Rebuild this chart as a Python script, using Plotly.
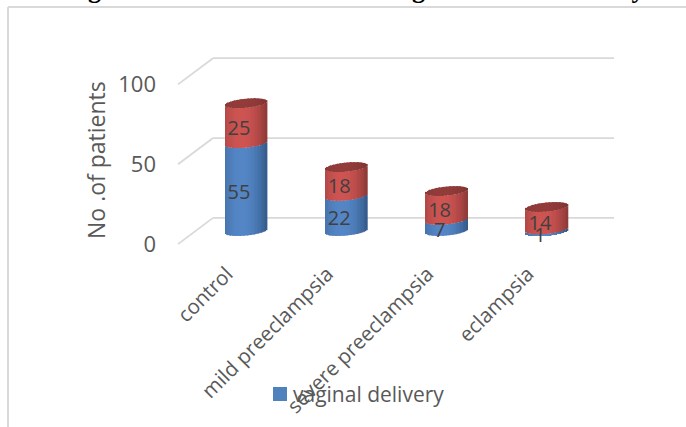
import numpy as np
import plotly.graph_objects as go

# Chart data
categories = ["control", "mild preeclampsia", "severe preeclampsia", "eclampsia"]
vaginal = [55, 22, 7, 1]
other_mode = [25, 18, 18, 14]
y_ticks = [0, 50, 100]
title_text = "Figure 4: Distribution according to mode of delivery"
legend_label = "vaginal delivery"

# Canvas and scale of the pseudo-3D plot
W, H = 686, 427
PX_PER_UNIT = 1.597
PX_PER_CAT = 100.3
BAR_CENTER_PX = 246
BASE_PX = 231
DEPTH = 8.2            # half the floor depth, in value units
HALF_W = 21            # cylinder radius, px
ARC_H = 4.5            # ellipse half height, px
ARC_TILT = 2.0         # ellipse shear, px
N_STRIPS = 30

x_range = [(0 - BAR_CENTER_PX) / PX_PER_CAT, (W - BAR_CENTER_PX) / PX_PER_CAT]
y_range = [-(H - BASE_PX) / PX_PER_UNIT, BASE_PX / PX_PER_UNIT]


def shade(c_mid, c_edge, t):
    k = np.clip(abs(t + 0.2) / 1.2, 0, 1) ** 2
    rgb = [round(a + (b - a) * k) for a, b in zip(c_mid, c_edge)]
    return f"rgb({rgb[0]},{rgb[1]},{rgb[2]})"


def lower_arc(t):
    return (ARC_TILT * t - ARC_H * np.sqrt(max(0.0, 1 - t * t))) / PX_PER_UNIT


def upper_arc(t):
    return (ARC_TILT * t + ARC_H * np.sqrt(max(0.0, 1 - t * t))) / PX_PER_UNIT


fig = go.Figure()

# Back wall grid with the diagonal floor/side returns, kept under the cylinders
grid_left_front = (178 - BAR_CENTER_PX) / PX_PER_CAT
grid_left_back = (213 - BAR_CENTER_PX) / PX_PER_CAT
grid_right = (614 - BAR_CENTER_PX) / PX_PER_CAT
GRID_LINE = dict(color="#D9D9D9", width=1.8)
shapes = []
for v in y_ticks:
    shapes.append(dict(type="line", xref="x", yref="y", layer="below",
                       x0=grid_left_front, x1=grid_left_back,
                       y0=v - DEPTH, y1=v + DEPTH, line=GRID_LINE))
    shapes.append(dict(type="line", xref="x", yref="y", layer="below",
                       x0=grid_left_back, x1=grid_right,
                       y0=v + DEPTH, y1=v + DEPTH, line=GRID_LINE))

# Chart frame along the top and the left
FRAME_LINE = dict(color="#D9D9D9", width=2)
shapes.append(dict(type="line", xref="paper", yref="paper", x0=8 / W, x1=1,
                   y0=1 - 7 / H, y1=1 - 7 / H, line=FRAME_LINE))
shapes.append(dict(type="line", xref="paper", yref="paper", x0=8 / W, x1=8 / W,
                   y0=0, y1=1 - 7 / H, line=FRAME_LINE))

# Legend swatch
shapes.append(dict(type="rect", xref="paper", yref="paper",
                   x0=273 / W, x1=287 / W, y0=1 - 401 / H, y1=1 - 387 / H,
                   fillcolor="#4F81BD", line=dict(width=0)))

idx = list(range(len(categories)))
vag = np.array(vaginal, float)
oth = np.array(other_mode, float)

# Each cylinder is a stack of narrow vertical strips shaded across its width
strip_w = 2 * HALF_W / N_STRIPS
for j in range(N_STRIPS):
    t = -1 + (j + 0.5) * 2 / N_STRIPS
    off = (t * HALF_W - strip_w / 2) / PX_PER_CAT
    wid = (strip_w + 0.4) / PX_PER_CAT
    low = lower_arc(t)
    up = upper_arc(t)
    common = dict(x=idx, offset=off, width=wid, showlegend=False, hoverinfo="skip")
    fig.add_trace(go.Bar(
        y=vag, base=[low] * 4,
        marker=dict(color=shade((84, 134, 198), (52, 90, 138), t), line=dict(width=0)),
        **common))
    fig.add_trace(go.Bar(
        y=oth, base=list(vag + low),
        marker=dict(color=shade((206, 84, 82), (140, 58, 56), t), line=dict(width=0)),
        **common))
    fig.add_trace(go.Bar(
        y=[up - low] * 4, base=list(vag + oth + low),
        marker=dict(color=shade((146, 60, 58), (128, 52, 50), t), line=dict(width=0)),
        **common))

# Value labels, nudged left and down from each segment's middle
lab_x = [i - 7 / PX_PER_CAT for i in idx]
drop = 6.5 / PX_PER_UNIT
LABEL_FONT = dict(family="Open Sans", size=20, color="#404040")
fig.add_trace(go.Scatter(
    x=lab_x, y=list(vag / 2 - drop), text=[str(v) for v in vaginal], mode="text",
    textposition="middle center", textfont=LABEL_FONT,
    showlegend=False, hoverinfo="skip",
))
fig.add_trace(go.Scatter(
    x=lab_x, y=list(vag + oth / 2 - drop), text=[str(v) for v in other_mode], mode="text",
    textposition="middle center", textfont=LABEL_FONT,
    showlegend=False, hoverinfo="skip",
))

fig.update_layout(
    width=W, height=H,
    margin=dict(l=0, r=0, t=0, b=0),
    paper_bgcolor="white", plot_bgcolor="white",
    barmode="overlay",
    font=dict(family="Open Sans", color="#595959"),
    showlegend=False,
    xaxis=dict(range=x_range, domain=[0, 1], visible=False),
    yaxis=dict(range=y_range, domain=[0, 1], visible=False),
    # Category labels hang from the front edge of the floor
    xaxis2=dict(
        overlaying="x", anchor="free", position=1 - 257 / H,
        range=[x_range[0] + 19 / PX_PER_CAT, x_range[1] + 19 / PX_PER_CAT],
        tickmode="array", tickvals=idx, ticktext=categories, tickangle=-45,
        tickfont=dict(family="Open Sans", size=20.5, color="#595959"),
        showgrid=False, showline=False, zeroline=False, ticks="",
    ),
    # Value ticks belong to the front plane, below the cylinders' plane
    yaxis2=dict(
        overlaying="y", anchor="free", position=156 / W, side="left",
        range=[y_range[0] + DEPTH, y_range[1] + DEPTH],
        tickmode="array", tickvals=y_ticks,
        tickfont=dict(family="Open Sans", size=22, color="#595959"),
        showgrid=False, showline=False, zeroline=False, ticks="",
    ),
    annotations=[
        dict(text="No .of patients", x=96 / W, y=1 - 160 / H, xref="paper", yref="paper",
             textangle=-90, showarrow=False, xanchor="center", yanchor="middle",
             font=dict(family="Open Sans", size=23, color="#595959")),
        dict(text=f"<b>{title_text}</b>", x=354 / W, y=1 - 6 / H, xref="paper", yref="paper",
             showarrow=False, xanchor="center", yanchor="bottom",
             font=dict(family="Liberation Serif", size=26, color="black")),
        dict(text=legend_label, x=291 / W, y=1 - 394 / H, xref="paper", yref="paper",
             showarrow=False, xanchor="left", yanchor="middle",
             font=dict(family="Open Sans", size=21, color="#595959")),
    ],
    shapes=shapes,
)

# Bind the tick-only axes to an invisible trace so that they render
fig.add_trace(go.Scatter(x=idx, y=y_ticks + [0], xaxis="x2", yaxis="y2", mode="markers",
                         marker=dict(opacity=0), showlegend=False, hoverinfo="skip"))

fig.write_html("out.html")
